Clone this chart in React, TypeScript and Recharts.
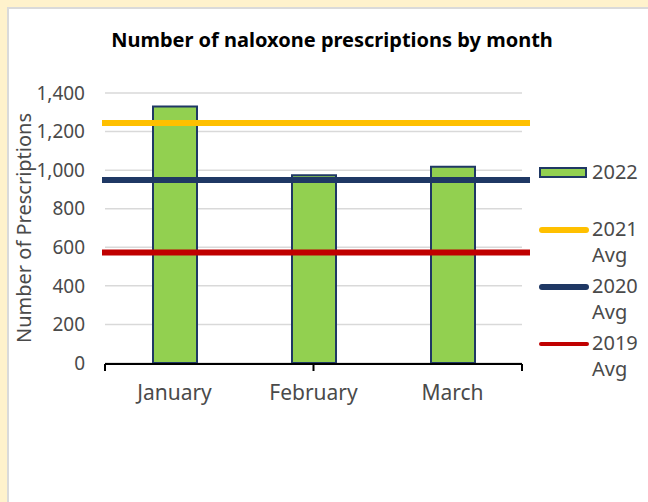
import {
  ComposedChart,
  Bar,
  XAxis,
  YAxis,
  CartesianGrid,
  ReferenceLine,
  Legend,
} from "recharts";

const months = ["January", "February", "March"];
const rx2022 = [1330, 974, 1018];
const avgLabels = ["2021 Avg", "2020 Avg", "2019 Avg"];
const avgValues = [1245, 949, 573];
const avgColors = ["#FFC000", "#1F3864", "#C00000"];
const yTicks = [0, 200, 400, 600, 800, 1000, 1200, 1400];
const monthEdges = [0, 1, 2, 3];

const data = months.map((m, i) => ({ month: m, y2022: rx2022[i] }));

const FONT = "'Noto Sans', 'Open Sans', sans-serif";
const GREY = "#4a4a4a";

// excel draws the average lines a little past the plot edges
const avgShape = (color: string) => (p: any) => (
  <line x1={p.x1 - 3} y1={p.y1} x2={p.x2 + 8} y2={p.y2} stroke={color} strokeWidth={6} />
);

function ChartLegend() {
  return (
    <div style={{ fontFamily: FONT, fontSize: 20, lineHeight: "26px", color: GREY }}>
      <div style={{ position: "relative", height: 57, paddingLeft: 53 }}>
        <div
          style={{
            position: "absolute",
            left: 0,
            top: 8,
            width: 44,
            height: 7,
            background: "#92D050",
            border: "2px solid #1F3864",
          }}
        />
        2022
      </div>
      {avgLabels.map((label, i) => {
        const [yr, rest] = label.split(" ");
        const h = i === 2 ? 4 : 6;
        return (
          <div key={label} style={{ position: "relative", height: 57, paddingLeft: 53 }}>
            <div
              style={{
                position: "absolute",
                left: 0,
                top: 13.6 - h / 2,
                width: 50,
                height: h,
                borderRadius: h / 2,
                background: avgColors[i],
              }}
            />
            {yr}
            <br />
            {rest}
          </div>
        );
      })}
    </div>
  );
}

export default function App() {
  return (
    <div
      style={{
        position: "absolute",
        left: 0,
        top: 0,
        width: 648,
        height: 502,
        background: "#FFF2CC",
        fontFamily: FONT,
        overflow: "hidden",
      }}
    >
      <div
        style={{
          position: "absolute",
          left: 7,
          top: 7,
          right: 0,
          bottom: 0,
          background: "#fff",
          borderLeft: "2px solid #DADADA",
          borderTop: "2px solid #DADADA",
        }}
      />
      <div style={{ position: "absolute", left: 0, top: 0 }}>
        <ComposedChart
          width={648}
          height={502}
          data={data}
          margin={{ top: 93, right: 126, bottom: 137, left: 0 }}
        >
          <CartesianGrid vertical={false} stroke="#D9D9D9" strokeWidth={1.5} />
          <XAxis
            dataKey="month"
            height={1}
            interval={0}
            axisLine={false}
            tickLine={false}
            tickSize={0}
            tickMargin={22}
            tick={{ fill: GREY, fontSize: 21 }}
          />
          <XAxis
            xAxisId="edges"
            type="number"
            domain={[0, 3]}
            allowDataOverflow
            ticks={monthEdges}
            height={1}
            tickFormatter={() => ""}
            tickSize={7}
            axisLine={{ stroke: "#000", strokeWidth: 2 }}
            tickLine={{ stroke: "#000", strokeWidth: 2 }}
          />
          <YAxis
            domain={[0, 1400]}
            ticks={yTicks}
            width={105}
            axisLine={false}
            tickLine={false}
            tickSize={0}
            tickMargin={20}
            tick={{ fill: GREY, fontSize: 19 }}
            tickFormatter={(v: number) => v.toLocaleString("en-US")}
            label={{
              value: "Number of Prescriptions",
              angle: -90,
              position: "insideLeft",
              offset: 24,
              style: { textAnchor: "middle", fill: GREY, fontSize: 20 },
            }}
          />
          <Bar
            dataKey="y2022"
            name="2022"
            barSize={44}
            fill="#92D050"
            stroke="#1F3864"
            strokeWidth={2}
            isAnimationActive={false}
          />
          {avgValues.map((v, i) => (
            <ReferenceLine key={avgLabels[i]} y={v} shape={avgShape(avgColors[i])} />
          ))}
          <Legend
            layout="vertical"
            align="center"
            verticalAlign="middle"
            content={() => <ChartLegend />}
            wrapperStyle={{ left: 539, top: 159, width: 109 }}
          />
        </ComposedChart>
      </div>
      <svg
        width={648}
        height={70}
        style={{ position: "absolute", left: 0, top: 0, pointerEvents: "none" }}
      >
        <text x={332} y={47} textAnchor="middle" fontSize={20} fontWeight={700} fill="#000">
          Number of naloxone prescriptions by month
        </text>
      </svg>
    </div>
  );
}
